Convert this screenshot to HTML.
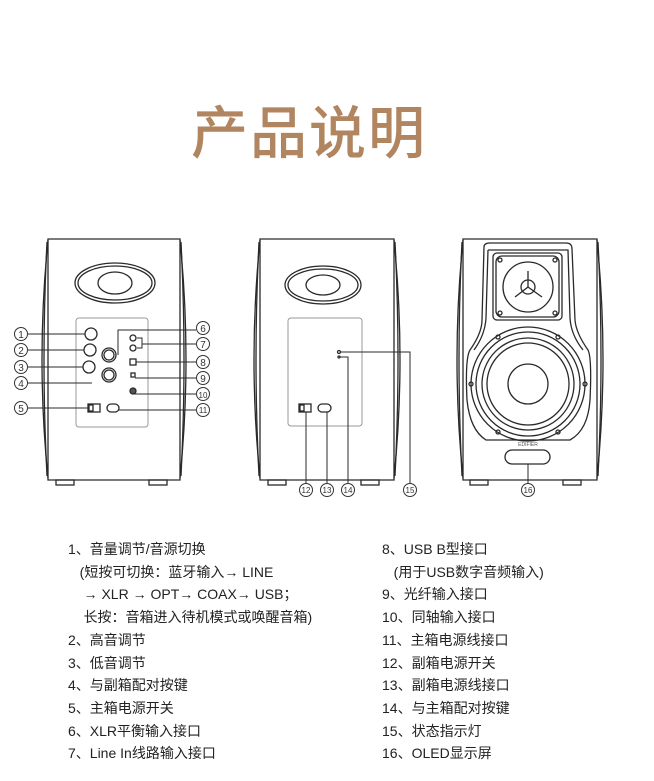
<!DOCTYPE html>
<html><head><meta charset="utf-8"><style>
html,body{margin:0;padding:0;background:#fff;}
body{width:654px;height:781px;position:relative;overflow:hidden;font-family:"Liberation Sans","Noto Sans CJK SC",sans-serif;}
.t{position:absolute;left:-18px;top:88px;width:654px;text-align:center;font-size:57px;color:#b0855f;font-family:"Liberation Sans","Noto Sans CJK SC",sans-serif;font-weight:500;letter-spacing:2px;}
.l{position:absolute;font-size:14px;color:#222;line-height:22.7px;white-space:pre;}
</style></head><body>
<div class="t">产品说明</div>
<svg width="654" height="781" style="position:absolute;left:0;top:0" fill="none" stroke="#2a2a2a" stroke-width="1.3">
<g>
<path d="M48 239 L180 239 L180 480 L48 480 Z"/>
<path d="M48 240 Q36 360 48 478"/><path d="M180 240 Q192 360 180 478"/>
<path d="M47 242 Q41 360 47 476"/><path d="M181 242 Q187 360 181 476"/>
<rect x="56" y="480" width="18" height="5"/><rect x="149" y="480" width="18" height="5"/>
<ellipse cx="115" cy="283" rx="40" ry="20"/><ellipse cx="115" cy="283" rx="37" ry="17"/><ellipse cx="115" cy="283" rx="17" ry="11"/>
<rect x="76" y="318" width="72" height="109" rx="3" stroke="#999" stroke-width="1"/>
<circle cx="91" cy="334" r="6"/><circle cx="90" cy="350" r="6"/><circle cx="89" cy="367" r="6"/>
<circle cx="109" cy="355" r="7"/><circle cx="109" cy="355" r="5"/><circle cx="109" cy="375" r="7"/><circle cx="109" cy="375" r="5"/>
<circle cx="133" cy="338" r="3"/><circle cx="133" cy="348" r="3"/>
<rect x="130" y="359" width="6" height="6"/><rect x="131" y="373" width="4" height="4"/><circle cx="133" cy="391" r="3" fill="#555"/>
<rect x="88" y="404" width="12" height="8"/><rect x="89" y="405" width="4" height="6"/><rect x="107" y="404" width="12" height="8" rx="4"/>
<g stroke-width="1"><path d="M28 334 H85 M28 350 H84 M28 367 H83 M28 383 H92 M28 408 H88"/>
<path d="M118 355 V330 H196 M137 338 H142 V348 H137 M142 344 H196 M136 362 H196 M135 378 H196 M133 394 H196 M119 408 V410 H196"/></g>
</g>
<g>
<path d="M260 239 L394 239 L394 480 L260 480 Z"/>
<path d="M260 240 Q248 360 260 478"/><path d="M394 240 Q406 360 394 478"/>
<path d="M259 242 Q253 360 259 476"/><path d="M395 242 Q401 360 395 476"/>
<rect x="268" y="480" width="18" height="5"/><rect x="361" y="480" width="18" height="5"/>
<ellipse cx="323" cy="285" rx="38" ry="19"/><ellipse cx="323" cy="285" rx="35" ry="16"/><ellipse cx="323" cy="285" rx="17" ry="10"/>
<rect x="288" y="318" width="74" height="108" rx="3" stroke="#999" stroke-width="1"/>
<rect x="299" y="404" width="12" height="8"/><rect x="300" y="405" width="4" height="6"/><rect x="318" y="404" width="13" height="8" rx="4"/>
<circle cx="339" cy="352" r="1.5"/><circle cx="339" cy="357" r="1"/>
<path stroke-width="1" d="M306 412 V483 M327 412 V483 M340 357 H348 V483 M341 352 H410 V483"/>
</g>
<g>
<path d="M463 239 L597 239 L597 480 L463 480 Z"/>
<path d="M463 240 Q451 360 463 478"/><path d="M597 240 Q609 360 597 478"/>
<path d="M462 242 Q456 360 462 476"/><path d="M598 242 Q604 360 598 476"/>
<rect x="470" y="480" width="18" height="5"/><rect x="563" y="480" width="18" height="5"/>
<path d="M484 247 Q484 243 490 243 L566 243 Q572 243 572 249 L575 320 Q576 333 588 350 Q592 358 590 400 Q588 430 570 440 L486 440 Q470 430 467 400 Q465 358 470 350 Q482 333 482 320 Z"/>
<path d="M488 250 L568 250 L570 318 Q571 335 583 350 M488 250 L486 318 Q485 335 474 350"/>
<rect x="493" y="253" width="69" height="67" rx="4"/><rect x="496" y="256" width="63" height="61" rx="6"/>
<circle cx="528" cy="287" r="25"/><circle cx="528" cy="287" r="7"/><path d="M528 271 V287 L515 297 M528 287 L542 297"/>
<circle cx="500" cy="260" r="2"/><circle cx="555" cy="260" r="2"/><circle cx="500" cy="313" r="2"/><circle cx="555" cy="313" r="2"/>
<circle cx="528" cy="384" r="57"/><circle cx="528" cy="384" r="52"/><circle cx="528" cy="384" r="46"/><circle cx="528" cy="384" r="41"/><circle cx="528" cy="384" r="20"/>
<circle cx="498" cy="337" r="2"/><circle cx="558" cy="337" r="2"/><circle cx="498" cy="432" r="2"/><circle cx="558" cy="432" r="2"/><circle cx="471" cy="384" r="2"/><circle cx="585" cy="384" r="2"/>
<rect x="505" y="450" width="45" height="14" rx="7"/>
<path stroke-width="1" d="M528 464 V483"/>
<text x="528" y="446" font-size="5" fill="#555" stroke="none" text-anchor="middle" font-family="Liberation Sans">EDIFIER</text>
</g>
<g font-size="10" fill="#333" stroke="none" font-family="Liberation Sans" text-anchor="middle">
<g stroke="#333" fill="none" stroke-width="1"><circle cx="21" cy="334" r="6.5"/><circle cx="21" cy="350" r="6.5"/><circle cx="21" cy="367" r="6.5"/><circle cx="21" cy="383" r="6.5"/><circle cx="21" cy="408" r="6.5"/>
<circle cx="203" cy="328" r="6.5"/><circle cx="203" cy="344" r="6.5"/><circle cx="203" cy="362" r="6.5"/><circle cx="203" cy="378" r="6.5"/><circle cx="203" cy="394" r="6.5"/><circle cx="203" cy="410" r="6.5"/>
<circle cx="306" cy="490" r="6.5"/><circle cx="327" cy="490" r="6.5"/><circle cx="348" cy="490" r="6.5"/><circle cx="410" cy="490" r="6.5"/><circle cx="528" cy="490" r="6.5"/></g>
<text x="21" y="338">1</text><text x="21" y="354">2</text><text x="21" y="371">3</text><text x="21" y="387">4</text><text x="21" y="412">5</text>
<text x="203" y="332">6</text><text x="203" y="348">7</text><text x="203" y="366">8</text><text x="203" y="382">9</text>
<text x="203" y="398" font-size="8">10</text><text x="203" y="413" font-size="8">11</text>
<text x="306" y="493" font-size="8">12</text><text x="327" y="493" font-size="8">13</text><text x="348" y="493" font-size="8">14</text><text x="410" y="493" font-size="8">15</text><text x="528" y="493" font-size="8">16</text>
</g>
</svg>
<div class="l" style="left:68px;top:538px">1、音量调节/音源切换
   (短按可切换：蓝牙输入→ LINE
    → XLR → OPT→ COAX→ USB；
    长按：音箱进入待机模式或唤醒音箱)
2、高音调节
3、低音调节
4、与副箱配对按键
5、主箱电源开关
6、XLR平衡输入接口
7、Line In线路输入接口</div>
<div class="l" style="left:382px;top:538px">8、USB B型接口
   (用于USB数字音频输入)
9、光纤输入接口
10、同轴输入接口
11、主箱电源线接口
12、副箱电源开关
13、副箱电源线接口
14、与主箱配对按键
15、状态指示灯
16、OLED显示屏</div>
</body></html>
